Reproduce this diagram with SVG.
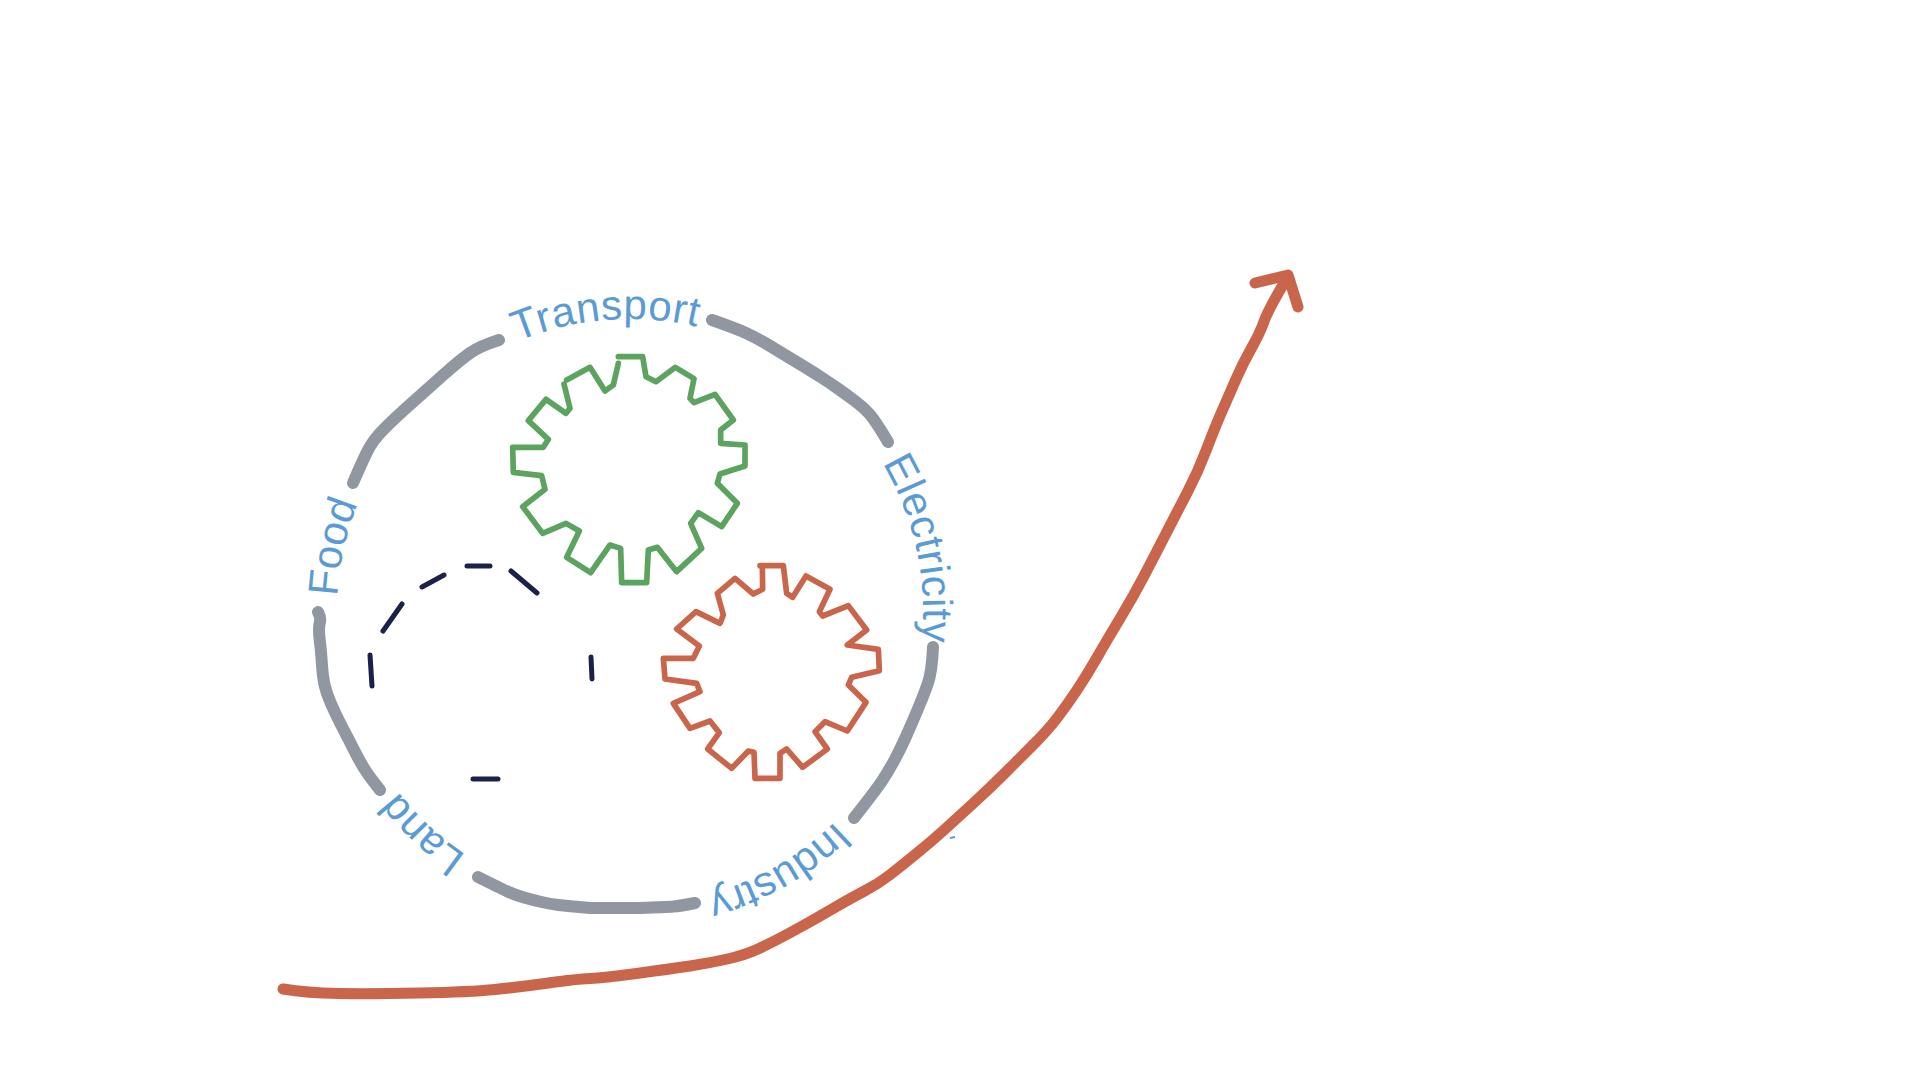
<svg xmlns="http://www.w3.org/2000/svg" width="1920" height="1080" viewBox="0 0 1920 1080">
<defs>
<style>
.arc{fill:none;stroke:#9097a0;stroke-width:12;stroke-linecap:round;stroke-linejoin:round}
.gear{fill:none;stroke-width:17;stroke-linecap:round;stroke-linejoin:round}
.dash{fill:none;stroke:#1b2148;stroke-width:5;stroke-linecap:round}
.lbl{font-family:"Liberation Sans",Arial,sans-serif;font-size:42px;fill:#5b9bd5}
.red{fill:none;stroke:#c8654a;stroke-width:11;stroke-linecap:round;stroke-linejoin:round}
</style>
<path id="ring" d="M630 319A293 293 0 1 1 630 905A293 293 0 1 1 630 319A293 293 0 1 1 630 905A293 293 0 1 1 630 319"/>
</defs>
<rect width="1920" height="1080" fill="#fff"/>
<g id="connectors">
<path class="arc" d="M499 340Q480 346 470 353Q460 360 441.5 376.5Q423 393 409 405.5Q395 418 384 429Q373 440 367.5 451Q362 462 353 483"/>
<path class="arc" d="M712 320Q735 328 746 333Q757 338 771 346.5Q785 355 799 363.5Q813 372 821.5 377.5Q830 383 838.5 389Q847 395 855 401Q863 407 869 413.5Q875 420 888 442"/>
<path class="arc" d="M933 647Q932 672 927.5 684.5Q923 697 917.5 710Q912 723 906 736.5Q900 750 894 761Q888 772 882 781Q876 790 854 818"/>
<path class="arc" d="M695 903Q680 906 673.5 906.5Q667 907 640 908L590 908Q567 906 558.5 905Q550 904 541.5 902Q533 900 524 897.5Q515 895 507.5 891.5Q500 888 478 877"/>
<path class="arc" d="M318 612Q321 618 320 621.5Q319 625 319 630Q319 635 320 642.5Q321 650 321.5 658.5Q322 667 323 676Q324 685 327 693.5Q330 702 335 712.5Q340 723 344.5 731.5Q349 740 353.5 749Q358 758 363 766.5Q368 775 380 790"/>
<path id="growth" class="red" d="M283 989Q307 993 338.5 993.5Q370 994 420 993Q470 992 495 989.5Q520 987 548.5 983Q577 979 590 978.5Q603 978 636.5 973.5Q670 969 690 966Q710 963 727.5 959Q745 955 758 949Q771 943 790.5 932.5Q810 922 830.5 910Q851 898 864.5 891Q878 884 889 875.5Q900 867 916.5 853.5Q933 840 944 830Q955 820 972.5 804Q990 788 1005 773Q1020 758 1034 744Q1048 730 1057.5 717.5Q1067 705 1077 690Q1087 675 1097 657.5Q1107 640 1120 618.5Q1133 597 1144 576Q1155 555 1165.5 534.5Q1176 514 1187 493Q1198 472 1206.5 449.5Q1215 427 1222.5 410Q1230 393 1236.5 378Q1243 363 1251.5 348Q1260 333 1264 321.5Q1268 310 1287 278M1255 283L1288 275L1298 307"/>
<path d="M950 838L955 837" stroke="#5b9bd5" stroke-width="2" fill="none"/>
</g>
<g id="gear-green" transform="translate(490 330) scale(.33333)"><polyline class="gear" stroke="#5ba35f" points="385,80 458,80 468,140 498,155 556,112 612,146 600,205 612,218 675,193 730,270 692,300 692,340 765,345 765,408 690,432 682,460 742,520 695,590 625,548 602,580 635,655 560,725 502,652 475,660 470,758 395,758 392,655 360,645 302,728 230,682 268,603 228,580 158,610 98,530 165,478 155,437 70,427 68,352 160,352 175,328 115,272 168,208 228,250 240,235 222,162"/><polyline class="gear" stroke="#5ba35f" points="230,150 300,112 345,183 370,165 385,100"/></g>
<g id="gear-red" transform="translate(640 550) scale(.33333)"><polyline class="gear" stroke="#c8654a" points="360,47 430,47 440,130 458,142 498,78 570,118 538,185 548,198 625,167 680,240 622,285 715,298 718,362 635,382 625,405 678,457 622,543 555,515 525,545 562,597 488,652 440,597 420,610 420,685 345,685 342,607 325,603 275,655 203,597 238,548 210,513 150,535 100,460 180,425 170,400 75,387 70,325 160,325 178,288 110,237 168,185 240,220 250,195 232,130 285,85 340,132 368,118 367,47"/></g>
<g id="dashes">
<path class="dash" d="M370 655L372 686M383 631L402 604M422 587L444 575M467 566L490 566M511 571L537 593M591 657L592 679M473 779L498 779"/>
</g>
<g id="label-transport"><text class="lbl" letter-spacing="0.6"><textPath href="#ring" startOffset="1725">Transport</textPath></text></g>
<g id="label-electricity"><text class="lbl" letter-spacing="0.6"><textPath href="#ring" startOffset="304">Electricity</textPath></text></g>
<g id="label-industry"><text class="lbl" letter-spacing="0"><textPath href="#ring" startOffset="693">Industry</textPath></text></g>
<g id="label-land"><text class="lbl" letter-spacing="0"><textPath href="#ring" startOffset="1094">Land</textPath></text></g>
<g id="label-food"><text class="lbl" letter-spacing="0"><textPath href="#ring" startOffset="1396">Food</textPath></text></g>
</svg>
